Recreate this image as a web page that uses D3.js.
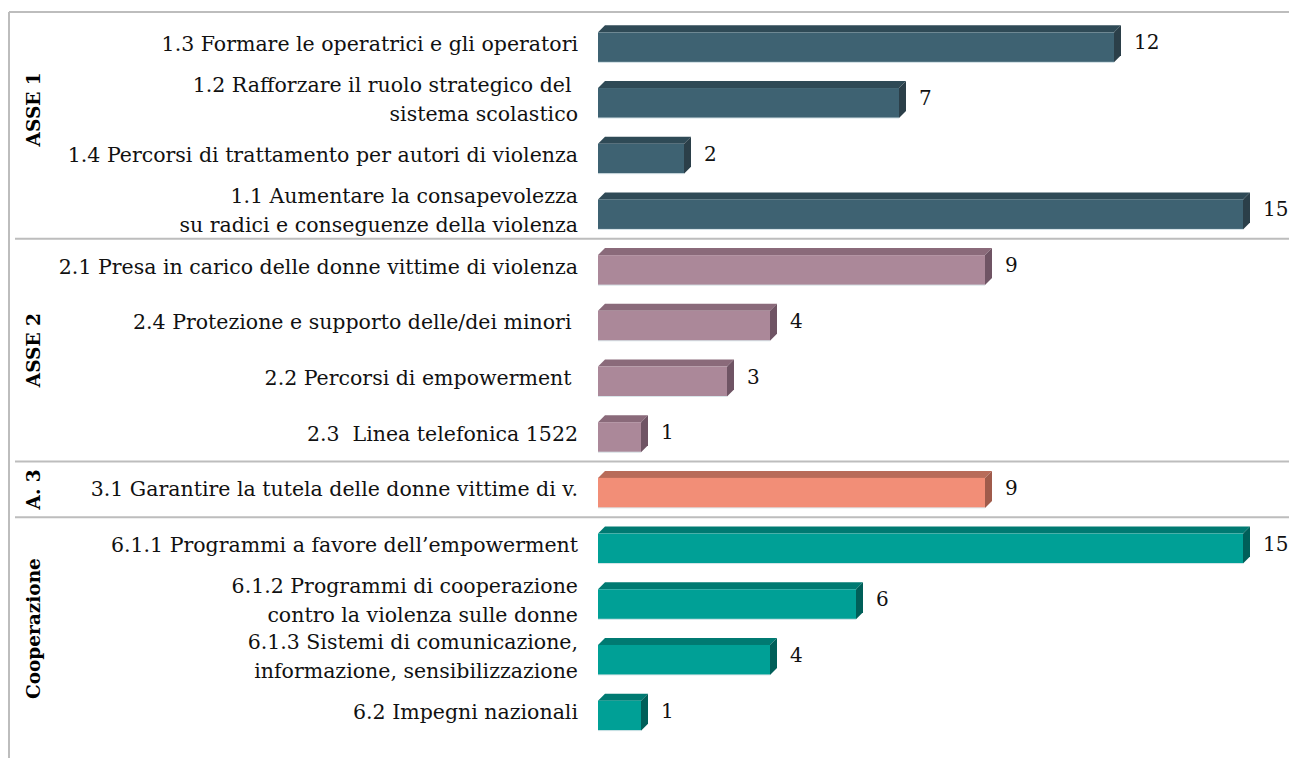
<!DOCTYPE html>
<html>
<head>
<meta charset="utf-8">
<script src="https://cdn.jsdelivr.net/npm/d3@7"></script>
<style>
    body { margin: 0; background: #fff; }
    svg { display: block; }
    text { font-family: "DejaVu Serif", "Liberation Serif", serif; white-space: pre; }
</style>
</head>
<body>
<div id="chart"></div>
<script>
/***** Données *****/

const groupNames = ["ASSE 1", "ASSE 2", "A. 3", "Cooperazione"];

const categories = [
    ["1.3 Formare le operatrici e gli operatori"],
    ["1.2 Rafforzare il ruolo strategico del ", "sistema scolastico"],
    ["1.4 Percorsi di trattamento per autori di violenza"],
    ["1.1 Aumentare la consapevolezza", "su radici e conseguenze della violenza"],
    ["2.1 Presa in carico delle donne vittime di violenza"],
    ["2.4 Protezione e supporto delle/dei minori "],
    ["2.2 Percorsi di empowerment "],
    ["2.3  Linea telefonica 1522"],
    ["3.1 Garantire la tutela delle donne vittime di v."],
    ["6.1.1 Programmi a favore dell\u2019empowerment"],
    ["6.1.2 Programmi di cooperazione", "contro la violenza sulle donne"],
    ["6.1.3 Sistemi di comunicazione,", "informazione, sensibilizzazione"],
    ["6.2 Impegni nazionali"]
];

const values = [12, 7, 2, 15, 9, 4, 3, 1, 9, 15, 6, 4, 1];

const rowGroup = [0, 0, 0, 0, 1, 1, 1, 1, 2, 3, 3, 3, 3];

(function (d3) {
    "use strict";

    /***** Configuration *****/

    const width = 1289;
    const height = 758;

    // couleurs : face avant, dessus, côté
    const palette = [
        { front: "#3e6272", top: "#2f4a56", side: "#2b3f49" },
        { front: "#ab8899", top: "#8a6a7a", side: "#6f5464" },
        { front: "#f28e77", top: "#b86b59", side: "#a05b4b" },
        { front: "#00a096", top: "#007a72", side: "#005f59" }
    ];

    const barH = 30;   // hauteur de la face avant
    const depth = 7;   // profondeur de l'effet 3D
    const lineH = 29;

    /***** Échelles *****/

    var x = d3.scaleLinear().domain([0, 15]).range([598, 1243]);
    var y = d3.scaleBand().domain(d3.range(values.length)).range([16, 740]);

    var svg = d3.select("#chart")
        .append("svg")
        .attr("width", width)
        .attr("height", height);

    /***** Cadre et séparateurs *****/

    svg.append("line")
        .attr("x1", 9).attr("x2", 9)
        .attr("y1", 12).attr("y2", height)
        .attr("stroke", "#bdbdbd").attr("stroke-width", 2);

    svg.append("line")
        .attr("x1", 9).attr("x2", width)
        .attr("y1", 12).attr("y2", 12)
        .attr("stroke", "#bdbdbd").attr("stroke-width", 2);

    // première ligne de chaque groupe (sauf le premier)
    var groupStarts = groupNames.map((g, i) => rowGroup.indexOf(i));

    svg.selectAll(".sep")
        .data(groupStarts.slice(1))
        .enter().append("line")
        .attr("class", "sep")
        .attr("x1", 15).attr("x2", width)
        .attr("y1", d => y(d)).attr("y2", d => y(d))
        .attr("stroke", "#bdbdbd").attr("stroke-width", 2);

    // Étiquettes des groupes (verticales)
    svg.selectAll(".group-label")
        .data(groupNames)
        .enter().append("text")
        .attr("class", "group-label")
        .attr("transform", function (d, i) {
            var first = groupStarts[i];
            var last = rowGroup.lastIndexOf(i);
            var cy = (y(first) + y(last) + y.bandwidth()) / 2;
            if (i === 0) cy -= 18; // le libellé du premier axe est placé plus haut
            return "translate(33," + cy + ") rotate(-90)";
        })
        .attr("text-anchor", "middle")
        .attr("dominant-baseline", "central")
        .style("font-weight", "bold")
        .style("font-size", "18.5px")
        .text(d => d);

    /***** Barres 3D *****/

    var rows = values.map((v, i) => ({ i: i, value: v, group: rowGroup[i], label: categories[i] }));

    var bar = svg.selectAll(".bar")
        .data(rows)
        .enter().append("g")
        .attr("class", "bar");

    function topY(d) {
        return y(d.i) + y.bandwidth() / 2 - (barH + depth) / 2;
    }

    // dessus
    bar.append("polygon")
        .attr("points", function (d) {
            var x0 = x(0), x1 = x(d.value), yt = topY(d), yf = yt + depth;
            return [[x0, yf], [x0 + depth, yt], [x1 + depth, yt], [x1, yf]].join(" ");
        })
        .attr("fill", d => palette[d.group].top);

    // côté
    bar.append("polygon")
        .attr("points", function (d) {
            var x1 = x(d.value), yt = topY(d), yf = yt + depth;
            return [[x1, yf], [x1 + depth, yt], [x1 + depth, yt + barH], [x1, yf + barH]].join(" ");
        })
        .attr("fill", d => palette[d.group].side);

    // face avant
    bar.append("rect")
        .attr("x", x(0))
        .attr("y", d => topY(d) + depth)
        .attr("width", d => x(d.value) - x(0))
        .attr("height", barH)
        .attr("fill", d => palette[d.group].front);

    // liseré clair en bas
    bar.append("line")
        .attr("x1", x(0))
        .attr("x2", d => x(d.value))
        .attr("y1", d => topY(d) + depth + barH)
        .attr("y2", d => topY(d) + depth + barH)
        .attr("stroke", "#d9e6ea")
        .attr("stroke-width", 1);

    // valeurs
    bar.append("text")
        .attr("x", d => x(d.value) + depth + 13)
        .attr("y", d => topY(d) + depth + barH / 2 - 5)
        .attr("dominant-baseline", "central")
        .style("font-size", "20px")
        .attr("fill", "#111")
        .text(d => d.value);

    /***** Étiquettes des catégories *****/

    var label = svg.selectAll(".cat")
        .data(rows)
        .enter().append("text")
        .attr("class", "cat")
        .attr("text-anchor", "end")
        .style("font-size", "20.5px")
        .attr("fill", "#111");

    label.selectAll("tspan")
        .data(function (d) {
            var cy = y(d.i) + y.bandwidth() / 2;
            var n = d.label.length;
            return d.label.map((t, k) => ({ t: t, y: cy + (k - (n - 1) / 2) * lineH }));
        })
        .enter().append("tspan")
        .attr("x", 578)
        .attr("y", d => d.y)
        .attr("dominant-baseline", "central")
        .text(d => d.t);

})(d3);
</script>
</body>
</html>
